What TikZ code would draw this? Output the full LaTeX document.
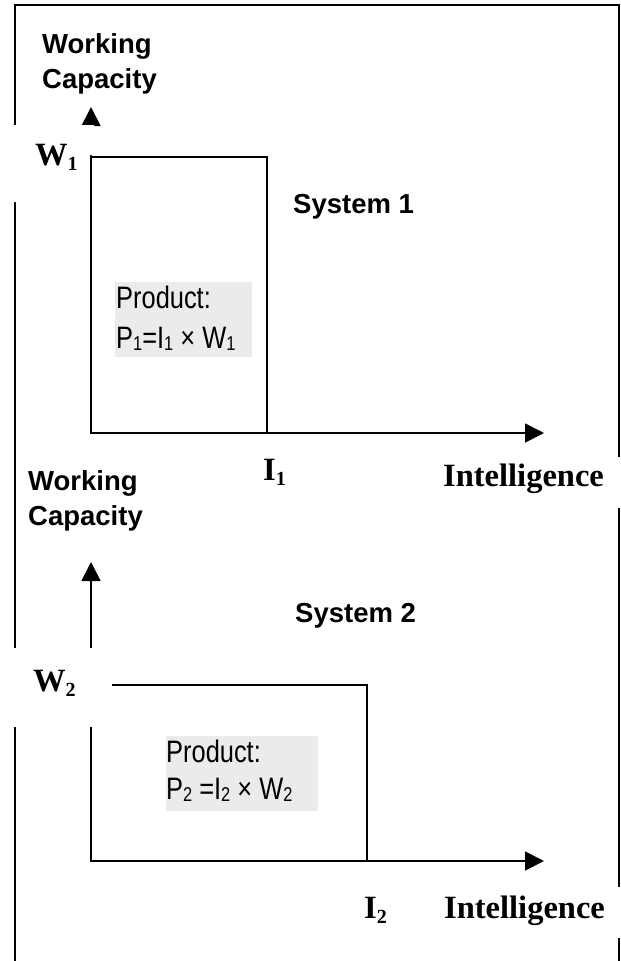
\documentclass[tikz,border=0pt]{standalone}
\usepackage{fontspec}
\setmainfont{Liberation Serif}
\newfontfamily\sansf{Liberation Sans}
\newfontfamily\seriff{Liberation Serif}
\newfontfamily\narrowf[FakeStretch=0.82]{Liberation Sans}
\usetikzlibrary{arrows.meta}
\newcommand\tdn[1]{\raisebox{-5pt}{\fontsize{20}{20}\selectfont #1}}
\newcommand\ndn[1]{\raisebox{-2pt}{\fontsize{20}{20}\selectfont #1}}
\tikzset{
  lbl/.style={font=\sansf\bfseries\fontsize{27.5}{35}\selectfont, inner sep=0, align=left},
  tms/.style={font=\seriff\bfseries\fontsize{32.5}{36}\selectfont, inner sep=0},
  prod/.style={font=\narrowf\fontsize{31}{40}\selectfont, inner sep=0, align=left},
  edge/.style={line width=1.8pt},
  axis/.style={line width=1.8pt, -{Triangle[length=19pt,width=19pt]}},
  mask/.style={fill=white},
  gbox/.style={fill=black!8}
}
\begin{document}
\begin{tikzpicture}[x=1pt,y=-1pt]
\useasboundingbox (0,0) rectangle (621,961);
% outer frame
\coordinate (fbl) at (15,961);
\coordinate (ftl) at (15,5);
\coordinate (ftr) at (619,5);
\coordinate (fbr) at (619,961);
\draw[edge] (fbl) -- (ftl) -- (ftr) -- (fbr);

% system 1
\coordinate (a1) at (91,157);
\coordinate (b1) at (267,433);
\coordinate (o1) at (91,433);
\coordinate (y1tip) at (91,107);
\coordinate (x1tip) at (544,433);
\draw[edge] (a1) rectangle (b1);
\draw[axis] (o1) -- (y1tip);
\draw[axis] (b1) -- (x1tip);

% system 2
\coordinate (a2) at (91,685);
\coordinate (b2) at (367,861);
\coordinate (o2) at (91,861);
\coordinate (y2tip) at (91,562);
\coordinate (x2tip) at (544,861);
\draw[edge] (a2) rectangle (b2);
\draw[axis] (o2) -- (y2tip);
\draw[axis] (b2) -- (x2tip);

% white label backgrounds
\fill[mask] (4,125) -- (94,125) -- (94,155) -- (88,155) -- (88,202) -- (4,202) -- cycle;
\fill[mask] (440,457) rectangle (630,508);
\fill[mask] (4,648) rectangle (112,727);
\fill[mask] (440,887) rectangle (630,938);

% product boxes
\fill[gbox] (115,282) rectangle (252,357);
\fill[gbox] (166,736) rectangle (318,811);

% texts system 1
\node[lbl, anchor=north west] (wc1) at (42,33) {Working\\Capacity};
\node[tms, anchor=base west] (w1) at (35,165) {W\tdn{1}};
\node[lbl, anchor=base west] (s1) at (293,213) {System 1};
\node[prod, anchor=north west] (p1) at (116,285.5) {Product:\\P\ndn{1}=I\ndn{1} × W\ndn{1}};
\node[tms, anchor=base west] (i1) at (263,480) {I\tdn{1}};
\node[tms, anchor=base west] (int1) at (443,486) {Intelligence};

% texts system 2
\node[lbl, anchor=north west] (wc2) at (28,470) {Working\\Capacity};
\node[lbl, anchor=base west] (s2) at (295,622) {System 2};
\node[tms, anchor=base west] (w2) at (33,691) {W\tdn{2}};
\node[prod, anchor=north west, font=\narrowf\fontsize{31}{37}\selectfont] (p2) at (166,739.5) {Product:\\P\ndn{2} =I\ndn{2} × W\ndn{2}};
\node[tms, anchor=base west] (i2) at (364,918) {I\tdn{2}};
\node[tms, anchor=base west] (int2) at (444,918) {Intelligence};
\end{tikzpicture}
\end{document}
